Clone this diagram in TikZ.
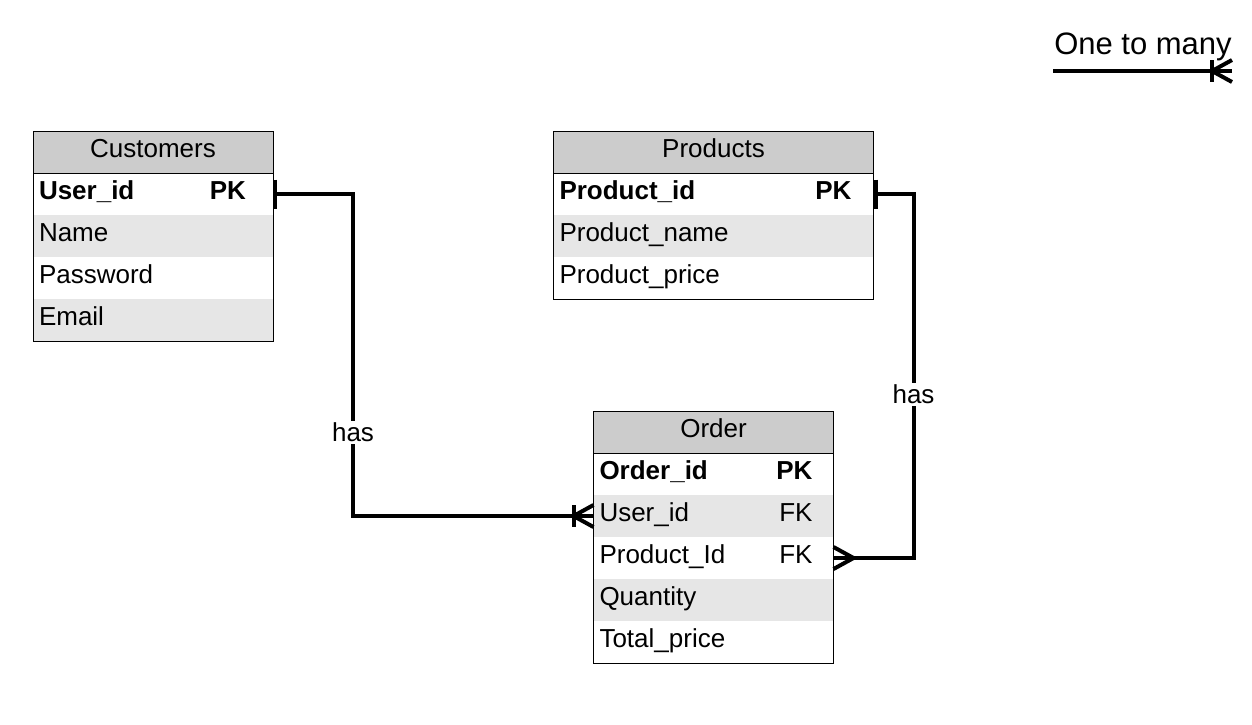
\documentclass[tikz,border=0pt]{standalone}
\usepackage{fontspec}
\setmainfont{Liberation Sans}
\usetikzlibrary{positioning,calc}
\definecolor{hdrgray}{HTML}{CCCCCC}
\definecolor{rowgray}{HTML}{E6E6E6}
\def\crowfoot(#1)(#2){\draw[conn] ($(#1)+(0,-11)$) -- ($(#1)+(#2,0)$) -- ($(#1)+(0,11)$);}
\def\crowbar(#1)(#2:#3){\draw[conn] ($(#1)+(#2,-#3)$) -- ($(#1)+(#2,#3)$);}
\def\keycol#1#2{\hfill\makebox[0pt][r]{#1}\hspace*{#2}\mbox{}}

\begin{document}
\begin{tikzpicture}[x=1pt,y=-1pt,
		conn/.style={line width=4pt},
		frame/.style={line width=1pt},
		hdr/.style={fill=hdrgray, minimum height=42pt, inner sep=0pt, outer sep=0pt, text height=18pt, text depth=7pt, font=\fontsize{26}{30}\selectfont},
		row/.style={minimum height=42pt, inner ysep=0pt, inner xsep=6pt, outer sep=0pt, align=left, text height=18pt, text depth=7pt, font=\fontsize{26}{30}\selectfont},
		lbl/.style={fill=white, inner sep=2pt, font=\fontsize{26}{30}\selectfont}]
				\useasboundingbox (0,0) rectangle (1252,724);
				
				\node[hdr, minimum width=240pt] (cust) at (153,152) {Customers};
				\node[row, text width=228pt, below=0pt of cust] (cust-uid) {\textbf{User\_id}\keycol{\textbf{PK}}{21pt}};
				\node[row, text width=228pt, below=0pt of cust-uid, fill=rowgray] (cust-name) {Name};
				\node[row, text width=228pt, below=0pt of cust-name] (cust-pass) {Password};
				\node[row, text width=228pt, below=0pt of cust-pass, fill=rowgray] (cust-mail) {Email};
				\draw[frame] (cust.north west) rectangle (cust-mail.south east);
				\draw[frame] (cust.south west) -- (cust.south east);
				
				\node[hdr, minimum width=320pt] (prod) at (713.5,152) {Products};
				\node[row, text width=308pt, below=0pt of prod] (prod-pid) {\textbf{Product\_id}\keycol{\textbf{PK}}{16pt}};
				\node[row, text width=308pt, below=0pt of prod-pid, fill=rowgray] (prod-name) {Product\_name};
				\node[row, text width=308pt, below=0pt of prod-name] (prod-price) {Product\_price};
				\draw[frame] (prod.north west) rectangle (prod-price.south east);
				\draw[frame] (prod.south west) -- (prod.south east);
				
				\node[hdr, minimum width=240pt] (ord) at (713.5,432) {Order};
				\node[row, text width=228pt, below=0pt of ord] (ord-oid) {\textbf{Order\_id}\keycol{\textbf{PK}}{15pt}};
				\node[row, text width=228pt, below=0pt of ord-oid, fill=rowgray] (ord-uid) {User\_id\keycol{FK}{15pt}};
				\node[row, text width=228pt, below=0pt of ord-uid] (ord-pid) {Product\_Id\keycol{FK}{15pt}};
				\node[row, text width=228pt, below=0pt of ord-pid, fill=rowgray] (ord-qty) {Quantity};
				\node[row, text width=228pt, below=0pt of ord-qty] (ord-total) {Total\_price};
				\draw[frame] (ord.north west) rectangle (ord-total.south east);
				\draw[frame] (ord.south west) -- (ord.south east);
				
				\draw[conn] (cust-uid.east) -- ++(80,0) |- node[pos=0.37, lbl] {has} (ord-uid.west);
				\crowbar(cust-uid.east)(2:14.5)
				\crowfoot(ord-uid.west)(-20)
				\crowbar(ord-uid.west)(-20:11)
				
				\draw[conn] (prod-pid.east) -- ++(40,0) |- node[pos=0.275, lbl] {has} (ord-pid.east);
				\crowbar(prod-pid.east)(2:14.5)
				\crowfoot(ord-pid.east)(20)
				
				\node[font=\fontsize{31}{35}\selectfont, inner sep=0pt] (legend) at (1143,47) {One to many};
				\coordinate (lg-a) at (1053,71);
				\coordinate (lg-b) at (1232,71);
				\draw[conn] (lg-a) -- (lg-b);
				\crowfoot(lg-b)(-20)
				\crowbar(lg-b)(-20:11)
			\end{tikzpicture}
\end{document}
